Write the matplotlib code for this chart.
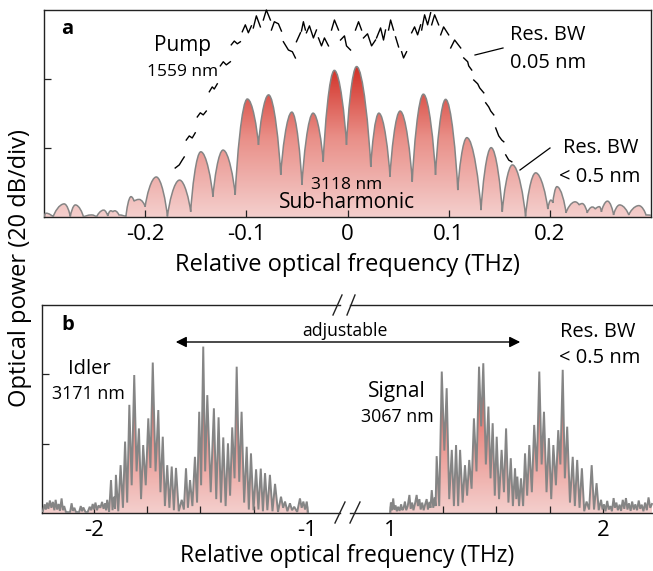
import numpy as np
import matplotlib
matplotlib.use("Agg")
import matplotlib.pyplot as plt
from matplotlib.path import Path
from matplotlib.patches import PathPatch, Polygon, FancyArrowPatch
from matplotlib.colors import LinearSegmentedColormap

# --- DATA ---
# panel a: sub-harmonic comb, alternating peaks / troughs (THz, dB)
sh_freq = [-0.300, -0.298, -0.291, -0.280, -0.274, -0.269, -0.261, -0.253, -0.248, -0.241,
           -0.237, -0.234, -0.232, -0.230, -0.226, -0.219, -0.214, -0.211, -0.206, -0.200,
           -0.189, -0.178, -0.166, -0.155, -0.145, -0.133, -0.123, -0.111, -0.099, -0.088,
           -0.078, -0.066, -0.055, -0.045, -0.034, -0.024, -0.013, -0.001, 0.009, 0.023,
           0.031, 0.042, 0.052, 0.064, 0.075, 0.087, 0.097, 0.109, 0.118, 0.132,
           0.142, 0.153, 0.163, 0.176, 0.186, 0.198, 0.201, 0.203, 0.207, 0.216,
           0.225, 0.229, 0.232, 0.237, 0.242, 0.245, 0.249, 0.251, 0.257, 0.263,
           0.269, 0.278, 0.288, 0.295, 0.300]
sh_db = [0.0, 1.1, 0.0, 3.8, 0.1, 3.5, 0.0, 0.6, 0.0, 2.0,
         0.3, 1.8, 1.5, 1.8, 0.6, 0.1, 5.9, 4.6, 5.1, 3.0,
         11.6, 0.1, 10.7, 1.5, 18.9, 5.9, 19.4, 6.4, 34.2, 20.9,
         35.4, 12.2, 30.4, 9.3, 30.1, 16.0, 42.5, 20.9, 43.6, 14.5,
         30.1, 11.7, 30.7, 10.2, 35.6, 12.2, 34.1, 7.8, 23.0, 2.0,
         20.1, 1.5, 15.1, 0.1, 12.8, 2.3, 4.9, 4.1, 8.8, 1.2,
         4.4, 3.5, 3.9, 1.2, 2.9, 2.3, 3.0, 1.5, 4.6, 0.6,
         3.5, 0.6, 3.3, 0.6, 0.5]

# panel a: pump (dashed squiggles, nan = gap)
nan = np.nan
pump_freq = [-0.1703, -0.1663, -0.1634, -0.1614, nan,
             -0.1594, -0.1564, -0.1535, -0.1505, nan,
             -0.1485, -0.1455, -0.1426, -0.1396, nan,
             -0.1366, -0.1337, -0.1317, -0.1287, nan,
             -0.1257, -0.1228, -0.1198, -0.1158, nan,
             -0.1149, -0.1119, -0.1089, -0.1059, nan,
             -0.1040, -0.1010, -0.0980, -0.0950, nan,
             -0.0931, -0.0901, -0.0861, nan,
             -0.0832, -0.0802, -0.0762, nan,
             -0.0752, -0.0723, -0.0683, -0.0653, nan,
             -0.0634, -0.0584, -0.0545, -0.0515, nan,
             -0.0505, -0.0465, nan,
             -0.0455, -0.0436, -0.0416, nan,
             -0.0406, -0.0376, -0.0337, -0.0307, nan,
             -0.0287, -0.0257, -0.0228, -0.0188, nan,
             -0.0158, -0.0129, -0.0089, nan,
             -0.0069, -0.0030, -0.0010, 0.0030, nan,
             0.0079, 0.0109, 0.0139, nan,
             0.0158, 0.0198, 0.0238, 0.0277, nan,
             0.0287, 0.0327, 0.0356, 0.0376, nan,
             0.0406, 0.0426, 0.0455, nan,
             0.0475, 0.0505, nan,
             0.0535, 0.0554, 0.0584, nan,
             0.0634, 0.0663, 0.0693, 0.0723, nan,
             0.0733, 0.0762, 0.0792, 0.0822, nan,
             0.0832, 0.0861, 0.0901, nan,
             0.0921, 0.0950, 0.1000, nan,
             0.1020, 0.1059, 0.1119, nan,
             0.1149, 0.1188, 0.1198, 0.1228, nan,
             0.1248, 0.1287, 0.1307, 0.1347, nan,
             0.1366, 0.1396, 0.1416, 0.1446, nan,
             0.1465, 0.1495, 0.1525, 0.1545, nan,
             0.1564, 0.1594, 0.1624]
pump_db = [14.2, 15.1, 16.5, 17.4, nan,
           22.3, 23.5, 22.9, 24.4, nan,
           29.0, 30.2, 29.6, 30.7, nan,
           36.3, 37.7, 37.1, 38.6, nan,
           43.8, 45.0, 44.1, 45.0, nan,
           49.9, 51.0, 50.2, 50.8, nan,
           53.7, 55.7, 53.4, 55.4, nan,
           54.8, 58.3, 55.1, nan,
           57.1, 60.0, 57.1, nan,
           54.2, 56.6, 56.0, 53.9, nan,
           50.8, 48.4, 47.9, 46.1, nan,
           50.8, 53.4, nan,
           53.9, 56.6, 54.2, nan,
           53.4, 55.4, 51.9, 54.2, nan,
           51.9, 49.6, 51.9, 49.6, nan,
           54.2, 57.1, 54.2, nan,
           51.3, 52.5, 49.6, 48.4, nan,
           54.2, 56.6, 54.2, nan,
           51.9, 53.1, 49.6, 51.3, nan,
           51.9, 54.8, 51.3, 54.2, nan,
           54.2, 57.1, 54.2, nan,
           52.2, 49.3, nan,
           47.9, 46.1, 47.9, nan,
           53.4, 55.1, 52.8, 55.7, nan,
           54.2, 58.6, 55.7, 59.2, nan,
           55.7, 58.6, 55.7, nan,
           52.8, 55.1, 52.8, nan,
           49.0, 51.3, 49.0, nan,
           46.1, 45.0, 43.8, 42.6, nan,
           39.7, 38.6, 37.4, 36.0, nan,
           33.1, 31.9, 30.7, 29.6, nan,
           25.8, 23.5, 22.3, 21.8, nan,
           18.0, 16.5, 16.0]

# panel b: idler spectrum (THz, dB)
idler_freq = [-2.240, -2.232, -2.226, -2.220, -2.214, -2.207, -2.200, -2.193, -2.186, -2.180,
              -2.173, -2.166, -2.160, -2.152, -2.146, -2.140, -2.132, -2.120, -2.112, -2.105,
              -2.099, -2.092, -2.085, -2.070, -2.062, -2.056, -2.050, -2.040, -2.030, -2.020,
              -2.013, -2.006, -2.000, -1.993, -1.986, -1.978, -1.970, -1.962, -1.955,
              -1.948, -1.943, -1.938, -1.929, -1.920, -1.913, -1.906, -1.901, -1.897, -1.886,
              -1.875, -1.864, -1.854, -1.844, -1.834, -1.823, -1.811, -1.800, -1.789, -1.779,
              -1.769, -1.757, -1.745, -1.735, -1.724, -1.711, -1.698, -1.688, -1.677, -1.667,
              -1.656, -1.646, -1.635, -1.625, -1.615, -1.602, -1.588, -1.578, -1.568, -1.559,
              -1.549, -1.538, -1.526, -1.516, -1.506, -1.497, -1.487, -1.478, -1.468, -1.452,
              -1.437, -1.426, -1.415, -1.404, -1.393, -1.382, -1.371, -1.361, -1.351, -1.340,
              -1.330, -1.318, -1.307, -1.295, -1.283, -1.273, -1.263, -1.251, -1.239, -1.228,
              -1.217, -1.207, -1.197, -1.186, -1.174, -1.162, -1.150, -1.136, -1.122, -1.112,
              -1.103, -1.092, -1.080, -1.070, -1.060, -1.046, -1.033, -1.025, -1.017, -1.009,
              -1.001, -0.995]
idler_db = [0.5, 2.5, 1.0, 3.0, 1.2, 3.6, 1.5, 3.2, 0.8, 3.8,
            1.0, 2.6, 0.6, 4.2, 0.8, 2.0, 0.3, 0.2, 0.3, 2.8,
            0.6, 1.5, 0.3, 0.2, 2.0, 0.5, 1.6, 0.3, 0.2, 1.8,
            0.8, 2.6, 1.0, 3.0, 0.8, 2.2, 1.5, 3.2, 1.2,
            2.8, 0.8, 3.8, 0.3, 9.5, 0.8, 4.7, 1.2, 11.0, 0.5,
            13.8, 1.5, 20.6, 3.0, 31.2, 8.0, 39.8, 12.0, 24.4, 4.0,
            19.6, 8.0, 27.3, 13.0, 43.4, 12.0, 29.7, 6.0, 22.0, 2.0,
            13.8, 1.5, 13.4, 0.8, 13.0, 0.5, 3.8, 1.0, 12.9, 1.5,
            9.5, 2.0, 16.2, 3.0, 29.2, 8.0, 48.0, 12.0, 34.0, 6.0,
            30.2, 4.0, 27.6, 3.0, 21.8, 2.0, 20.1, 5.0, 24.7, 10.0,
            42.2, 9.0, 29.2, 3.0, 19.1, 1.0, 17.2, 0.8, 12.6, 1.0,
            12.8, 0.5, 11.5, 0.8, 11.0, 0.5, 8.4, 0.3, 4.7, 1.5,
            3.3, 0.5, 2.8, 0.8, 1.8, 0.3, 4.2, 1.5, 3.3, 1.0,
            3.3, 0.0]

# panel b: signal spectrum (THz, dB)
signal_freq = [1.000, 1.004, 1.009, 1.015, 1.020, 1.026, 1.032, 1.038, 1.045, 1.052,
               1.058, 1.064, 1.070, 1.076, 1.083, 1.091, 1.097, 1.104, 1.110, 1.117,
               1.125, 1.131, 1.138, 1.144, 1.151, 1.158, 1.165, 1.172, 1.178, 1.185,
               1.190, 1.196, 1.203, 1.210, 1.214,
               1.219, 1.231, 1.243, 1.255, 1.266, 1.278, 1.290, 1.300, 1.310, 1.320,
               1.329, 1.341, 1.352, 1.362, 1.372, 1.383, 1.394, 1.406, 1.418, 1.428,
               1.438, 1.450, 1.462, 1.472, 1.482, 1.492, 1.501, 1.512, 1.524, 1.535,
               1.545, 1.556, 1.567, 1.577, 1.587, 1.593, 1.598, 1.606, 1.615, 1.625,
               1.634, 1.644, 1.654, 1.666, 1.677, 1.689, 1.701, 1.712, 1.723, 1.735,
               1.746, 1.757, 1.767, 1.779, 1.790, 1.800, 1.811, 1.821, 1.832, 1.845,
               1.858, 1.868, 1.879, 1.890, 1.901, 1.912, 1.923, 1.935, 1.947, 1.958,
               1.970, 1.980, 1.991,
               1.998, 2.005, 2.012, 2.020, 2.027, 2.035, 2.042, 2.050, 2.056, 2.063,
               2.070, 2.078, 2.085, 2.093, 2.100, 2.108, 2.115, 2.122, 2.130, 2.137,
               2.145, 2.152, 2.160, 2.168, 2.175, 2.182, 2.190, 2.198, 2.206, 2.214,
               2.222, 2.230]
signal_db = [0.0, 3.0, 0.8, 4.2, 1.0, 2.2, 0.5, 1.8, 0.6, 2.5,
             0.8, 1.5, 3.3, 0.8, 2.0, 5.2, 1.2, 3.0, 0.8, 2.6,
             5.2, 2.0, 4.0, 1.0, 3.0, 0.8, 2.5, 4.0, 1.0, 3.2,
             1.5, 6.6, 1.5, 4.5, 2.0,
             16.4, 2.0, 40.8, 18.0, 36.0, 4.0, 18.2, 2.0, 19.6, 2.0,
             18.2, 3.0, 13.8, 5.0, 15.3, 7.0, 27.3, 12.0, 42.2, 25.0,
             43.2, 14.0, 30.7, 10.0, 25.9, 5.0, 22.0, 4.0, 18.2, 6.0,
             24.4, 3.0, 15.8, 2.0, 12.9, 4.0, 10.5, 2.0, 10.0, 2.0,
             17.2, 5.0, 19.6, 6.0, 25.4, 12.0, 40.8, 14.0, 29.2, 6.0,
             21.6, 4.0, 19.6, 8.0, 23.9, 14.0, 41.3, 10.0, 24.9, 3.0,
             16.2, 2.0, 15.3, 1.5, 12.9, 0.5, 3.3, 1.0, 13.8, 1.0,
             8.6, 0.8, 3.8,
             1.0, 2.5, 0.5, 3.5, 1.0, 2.0, 0.5, 4.3, 1.5, 3.0,
             0.8, 2.4, 0.6, 3.8, 1.2, 4.3, 1.0, 2.8, 0.6, 3.3,
             1.0, 2.5, 0.8, 3.6, 1.2, 2.4, 0.5, 3.0, 0.8, 4.5,
             1.5, 2.6]

a_ticks = [-0.2, -0.1, 0, 0.1, 0.2]
a_ticklabels = ["-0.2", "-0.1", "0", "0.1", "0.2"]
b_left_ticks = [-2, -1.75, -1.5, -1.25, -1]
b_left_labels = ["-2", "", "", "", "-1"]
b_right_ticks = [1, 1.25, 1.5, 1.75, 2]
b_right_labels = ["1", "", "", "", "2"]
db_ticks = [20, 40]
# -----------------------------------

plt.rcParams["font.family"] = ["Open Sans", "DejaVu Sans"]
plt.rcParams["axes.unicode_minus"] = False

W, H = 653, 571
LINE_GRAY = "#858585"
cmap = LinearSegmentedColormap.from_list("redfill", ["#f4cfcd", "#e98f88", "#d0261c"])


def fx(px):
    return px / W


def fy(py):
    return 1 - py / H


def smooth_paths(xs, ys):
    # rounded tops, sharp-ish valleys
    line_v = [(xs[0], ys[0])]
    for x0, y0, x1, y1 in zip(xs[:-1], ys[:-1], xs[1:], ys[1:]):
        dx = x1 - x0
        if y1 <= y0:
            c1 = (x0 + 0.45 * dx, y0)
            c2 = (x1 - 0.12 * dx, y1 + 0.35 * (y0 - y1))
        else:
            c1 = (x0 + 0.12 * dx, y0 + 0.35 * (y1 - y0))
            c2 = (x1 - 0.45 * dx, y1)
        line_v += [c1, c2, (x1, y1)]
    codes = [Path.MOVETO] + [Path.CURVE4] * (len(line_v) - 1)
    line = Path(line_v, codes)
    fill_v = [(xs[0], 0)] + line_v + [(xs[-1], 0), (xs[0], 0)]
    fill_c = [Path.MOVETO] + [Path.LINETO] + [Path.CURVE4] * (len(line_v) - 1) + [Path.LINETO, Path.CLOSEPOLY]
    return line, Path(fill_v, fill_c)


def gradient_under(ax, patch, x0, x1):
    patch.set_facecolor("none")
    patch.set_edgecolor("none")
    ax.add_patch(patch)
    g = np.linspace(0, 60, 300).reshape(-1, 1)
    im = ax.imshow(g, extent=[x0, x1, 0, 60], origin="lower", aspect="auto",
                   cmap=cmap, vmin=0, vmax=46, zorder=1, interpolation="bilinear")
    im.set_clip_path(patch)


def style_axes(ax):
    for s in ax.spines.values():
        s.set_linewidth(1.0)
        s.set_color("#222222")
    ax.tick_params(direction="in", length=5, width=0.9, labelsize=16, pad=5, color="#222222")
    ax.set_ylim(0, 60)


fig = plt.figure(figsize=(6.53, 5.71), dpi=100)

# ---------------- panel a ----------------
axa = fig.add_axes([fx(44), fy(217), fx(651) - fx(44), fy(10) - fy(217)])
line_a, fill_a = smooth_paths(sh_freq, sh_db)
gradient_under(axa, PathPatch(fill_a, transform=axa.transData), -0.3, 0.3)
axa.add_patch(PathPatch(line_a, facecolor="none", edgecolor=LINE_GRAY, lw=1.1, zorder=3))
axa.plot(pump_freq, pump_db, color="black", lw=1.0, zorder=4, clip_on=False)
style_axes(axa)
axa.set_xlim(-0.3, 0.3)
axa.set_xticks(a_ticks)
axa.set_xticklabels(a_ticklabels)
axa.set_yticks(db_ticks)
axa.set_yticklabels([])

# ---------------- panel b ----------------
axb1 = fig.add_axes([fx(42), fy(513), fx(340) - fx(42), fy(305) - fy(513)])
axb2 = fig.add_axes([fx(350), fy(513), fx(653) - fx(350), fy(305) - fy(513)])
for ax, f, d, lim in [(axb1, idler_freq, idler_db, (-2.244, -0.845)),
                      (axb2, signal_freq, signal_db, (0.812, 2.235))]:
    verts = [(f[0], 0)] + list(zip(f, d)) + [(f[-1], 0)]
    gradient_under(ax, Polygon(verts, closed=True, transform=ax.transData), lim[0], lim[1])
    ax.plot(f, d, color=LINE_GRAY, lw=1.4, zorder=3, solid_joinstyle="miter")
    style_axes(ax)
    ax.set_xlim(*lim)
axb1.spines["right"].set_visible(False)
axb2.spines["left"].set_visible(False)
axb2.spines["right"].set_visible(False)
axb1.set_xticks(b_left_ticks)
axb1.set_xticklabels(b_left_labels)
axb2.set_xticks(b_right_ticks)
axb2.set_xticklabels(b_right_labels)
axb1.set_yticks(db_ticks)
axb1.set_yticklabels([])
axb2.set_yticks([])

# axis-break slashes
for (x0, y0, x1, y1) in [(333, 315, 342, 295), (347, 315, 355, 295),
                         (335, 523, 345, 502), (350, 523, 360, 502)]:
    fig.add_artist(plt.Line2D([fx(x0), fx(x1)], [fy(y0), fy(y1)], color="#222222", lw=1.0))

# ---------------- labels ----------------
fig.text(fx(20), fy(268), "Optical power (20 dB/div)", rotation=90, ha="center", va="center", fontsize=17)
fig.text(fx(347), fy(265), "Relative optical frequency (THz)", ha="center", va="center", fontsize=17)
fig.text(fx(347), fy(556), "Relative optical frequency (THz)", ha="center", va="center", fontsize=16.5)

fig.text(fx(67), fy(29), "a", ha="center", va="center", fontsize=14.5, fontweight="bold")
fig.text(fx(183), fy(45), "Pump", ha="center", va="center", fontsize=15)
fig.text(fx(183), fy(72), "1559 nm", ha="center", va="center", fontsize=12.5)
fig.text(fx(510), fy(35), "Res. BW", ha="left", va="center", fontsize=14.5)
fig.text(fx(510), fy(63), "0.05 nm", ha="left", va="center", fontsize=14.5)
fig.text(fx(563), fy(148), "Res. BW", ha="left", va="center", fontsize=14.5)
fig.text(fx(559), fy(177), "< 0.5 nm", ha="left", va="center", fontsize=14.5)
fig.text(fx(347), fy(185), "3118 nm", ha="center", va="center", fontsize=12.5)
fig.text(fx(347), fy(203), "Sub-harmonic", ha="center", va="center", fontsize=15)
fig.add_artist(plt.Line2D([fx(475), fx(503)], [fy(55), fy(48)], color="black", lw=0.9))
fig.add_artist(plt.Line2D([fx(520), fx(550)], [fy(170), fy(148)], color="black", lw=0.9))

fig.text(fx(68), fy(325), "b", ha="center", va="center", fontsize=14.5, fontweight="bold")
fig.text(fx(345), fy(331), "adjustable", ha="center", va="center", fontsize=12.7)
fig.text(fx(89), fy(369), "Idler", ha="center", va="center", fontsize=14.5)
fig.text(fx(88), fy(394), "3171 nm", ha="center", va="center", fontsize=12.9)
fig.text(fx(397), fy(392), "Signal", ha="center", va="center", fontsize=15)
fig.text(fx(397), fy(417), "3067 nm", ha="center", va="center", fontsize=12.9)
fig.text(fx(560), fy(332), "Res. BW", ha="left", va="center", fontsize=14.5)
fig.text(fx(559), fy(358), "< 0.5 nm", ha="left", va="center", fontsize=14.5)
fig.add_artist(FancyArrowPatch((fx(173), fy(342)), (fx(523), fy(342)), transform=fig.transFigure,
                               arrowstyle="<|-|>", mutation_scale=16, color="black", lw=1.0))

fig.savefig("out.png", dpi=100)
